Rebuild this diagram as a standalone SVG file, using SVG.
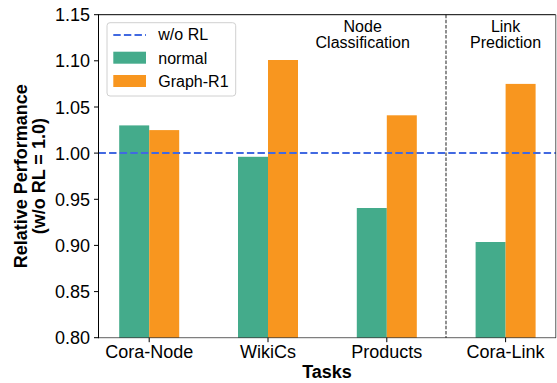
<svg xmlns="http://www.w3.org/2000/svg" width="557" height="383" viewBox="0 0 557 383">
<style>
text{font-family:"Liberation Sans",Arial,sans-serif;fill:#000}
.tk{font-size:18px}
.lg{font-size:16px}
.ann{font-size:16px;text-anchor:middle}
.lab{font-size:18px;font-weight:bold;text-anchor:middle}
.n{fill:#44ab8b}
.g{fill:#f8961f}
.tick{stroke:#000;stroke-width:1}
</style>
<rect width="557" height="383" fill="#fff"/>
<g id="bars">
<g id="cora-node"><rect class="n" x="119.2" y="125.4" width="30" height="212.3"/><rect class="g" x="149.2" y="130.1" width="30" height="207.6"/></g>
<g id="wikics"><rect class="n" x="238" y="156.8" width="30" height="180.9"/><rect class="g" x="268" y="60" width="30" height="277.7"/></g>
<g id="products"><rect class="n" x="356.8" y="208" width="30" height="129.7"/><rect class="g" x="386.8" y="115.3" width="30" height="222.4"/></g>
<g id="cora-link"><rect class="n" x="475.6" y="242" width="30" height="95.7"/><rect class="g" x="505.6" y="83.9" width="30" height="253.8"/></g>
</g>
<g id="connectors">
<line x1="98.5" y1="153.1" x2="555.7" y2="153.1" stroke="#4169e1" stroke-width="2" stroke-dasharray="7.4,3.2"/>
<line x1="446" y1="14.7" x2="446" y2="337.7" stroke="#555" stroke-width="1.3" stroke-dasharray="3.5,1.6"/>
</g>
<g id="axes">
<line x1="98.5" y1="14.7" x2="555.7" y2="14.7" stroke="#000" stroke-width="1"/>
<line x1="98.5" y1="14.2" x2="98.5" y2="338.2" stroke="#000" stroke-width="1"/>
<line x1="98" y1="337.7" x2="556" y2="337.7" stroke="#000" stroke-opacity="0.5" stroke-width="1.3"/>
<line x1="555.7" y1="14.7" x2="555.7" y2="337.7" stroke="#000" stroke-opacity="0.5" stroke-width="1.3"/>
<g class="tick">
<line x1="94" y1="14.7" x2="98.5" y2="14.7"/>
<line x1="94" y1="60.8" x2="98.5" y2="60.8"/>
<line x1="94" y1="107" x2="98.5" y2="107"/>
<line x1="94" y1="153.1" x2="98.5" y2="153.1"/>
<line x1="94" y1="199.3" x2="98.5" y2="199.3"/>
<line x1="94" y1="245.4" x2="98.5" y2="245.4"/>
<line x1="94" y1="291.6" x2="98.5" y2="291.6"/>
<line x1="94" y1="337.7" x2="98.5" y2="337.7"/>
<line x1="149.2" y1="337.7" x2="149.2" y2="342.2"/>
<line x1="268" y1="337.7" x2="268" y2="342.2"/>
<line x1="386.8" y1="337.7" x2="386.8" y2="342.2"/>
<line x1="505.6" y1="337.7" x2="505.6" y2="342.2"/>
</g>
<g class="tk" text-anchor="end">
<text x="90" y="21.2">1.15</text>
<text x="90" y="67.3">1.10</text>
<text x="90" y="113.5">1.05</text>
<text x="90" y="159.6">1.00</text>
<text x="90" y="205.8">0.95</text>
<text x="90" y="251.9">0.90</text>
<text x="90" y="298.1">0.85</text>
<text x="90" y="344.2">0.80</text>
</g>
<g class="tk" text-anchor="middle">
<text x="149.2" y="358.3">Cora-Node</text>
<text x="268" y="358.3">WikiCs</text>
<text x="386.8" y="358.3">Products</text>
<text x="505.6" y="358.3">Cora-Link</text>
</g>
<text class="lab" x="327" y="378.3">Tasks</text>
<text class="lab" transform="translate(26.6,176.2) rotate(-90)">Relative Performance</text>
<text class="lab" transform="translate(45.2,176.2) rotate(-90)">(w/o RL = 1.0)</text>
</g>
<g id="annotations">
<text class="ann" x="362.7" y="31.7">Node</text>
<text class="ann" x="362.7" y="48.3">Classification</text>
<text class="ann" x="505.6" y="31.7">Link</text>
<text class="ann" x="505.6" y="48.3">Prediction</text>
</g>
<g id="legend">
<rect x="107" y="22.7" width="128.7" height="73.3" rx="3" fill="#fff" fill-opacity="0.8" stroke="#d0d0d0" stroke-width="1"/>
<line x1="113.3" y1="35" x2="146" y2="35" stroke="#4169e1" stroke-width="2" stroke-dasharray="7.4,3.2"/>
<rect class="n" x="113.3" y="51.7" width="32.7" height="12"/>
<rect class="g" x="113.3" y="75" width="32.7" height="12"/>
<text class="lg" x="158.3" y="40.2">w/o RL</text>
<text class="lg" x="158.3" y="63.5">normal</text>
<text class="lg" x="158.3" y="86.8">Graph-R1</text>
</g>
</svg>
